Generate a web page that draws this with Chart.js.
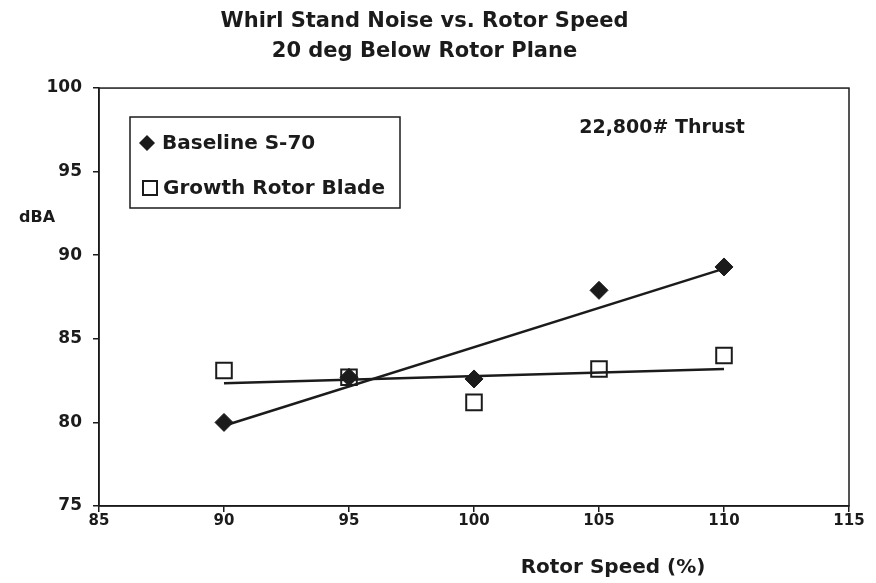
<!DOCTYPE html>
<html>
<head>
<meta charset="utf-8">
<script src="https://cdn.jsdelivr.net/npm/chart.js@4.4.1/dist/chart.umd.min.js"></script>
<style>
  html, body { margin: 0; padding: 0; background: #fff; }
  #wrap { width: 876px; height: 583px; }
</style>
</head>
<body>
<div id="wrap"><canvas id="chartCanvas"></canvas></div>
<script>
// Datos
const speeds = [90, 95, 100, 105, 110];
const baselineDba = [80.0, 82.7, 82.6, 87.9, 89.3];
const growthDba = [83.1, 82.7, 81.2, 83.2, 84.0];
// Lineas de tendencia (extremos)
const trendSpeeds = [90, 110];
const baselineTrend = [79.8, 89.2];
const growthTrend = [82.35, 83.2];
const titleLines = ['Whirl Stand Noise vs. Rotor Speed', '20 deg Below Rotor Plane'];
const seriesNames = ['Baseline S-70', 'Growth Rotor Blade'];
const noteText = '22,800# Thrust';

const INK = '#1b1b1b';
const FONT = '"DejaVu Sans", sans-serif';

const toPoints = (xs, ys) => xs.map((x, i) => ({ x: x, y: ys[i] }));

// Marco, etiquetas y leyenda dibujados sobre el lienzo
const extras = {
  id: 'extras',
  afterDraw(chart) {
    const { ctx, chartArea: a } = chart;
    ctx.save();
    ctx.strokeStyle = INK;
    ctx.lineWidth = 1.5;
    ctx.strokeRect(a.left, a.top, a.right - a.left, a.bottom - a.top);

    ctx.fillStyle = INK;
    ctx.textBaseline = 'middle';
    ctx.font = 'bold 16px ' + FONT;
    ctx.textAlign = 'left';
    ctx.fillText('dBA', 19, 218);
    ctx.font = 'bold 20px ' + FONT;
    ctx.textAlign = 'center';
    ctx.fillText('Rotor Speed (%)', 613, 568);
    ctx.font = 'bold 19px ' + FONT;
    ctx.fillText(noteText, 662, 128);

    // leyenda
    ctx.lineWidth = 1.5;
    ctx.strokeRect(130, 117, 270, 91);
    ctx.font = 'bold 20px ' + FONT;
    ctx.textAlign = 'left';
    ctx.beginPath();
    ctx.moveTo(147, 135); ctx.lineTo(155, 143); ctx.lineTo(147, 151); ctx.lineTo(139, 143);
    ctx.closePath();
    ctx.fill();
    ctx.fillText(seriesNames[0], 162, 144);
    ctx.lineWidth = 2;
    ctx.strokeRect(143, 181, 14, 14);
    ctx.fillText(seriesNames[1], 163, 189);
    ctx.restore();
  }
};

const ctx = document.getElementById('chartCanvas').getContext('2d');
new Chart(ctx, {
  type: 'scatter',
  data: {
    datasets: [
      {
        label: seriesNames[0],
        data: toPoints(speeds, baselineDba),
        pointStyle: 'rectRot',
        pointRadius: 9,
        backgroundColor: INK,
        borderColor: INK,
        borderWidth: 1,
        order: 1
      },
      {
        label: seriesNames[1],
        data: toPoints(speeds, growthDba),
        pointStyle: 'rect',
        pointRadius: 11,
        backgroundColor: 'rgba(0,0,0,0)',
        borderColor: INK,
        borderWidth: 2,
        order: 1
      },
      {
        label: 'Baseline trend',
        data: toPoints(trendSpeeds, baselineTrend),
        showLine: true,
        pointRadius: 0,
        borderColor: INK,
        borderWidth: 2.5,
        order: 2
      },
      {
        label: 'Growth trend',
        data: toPoints(trendSpeeds, growthTrend),
        showLine: true,
        pointRadius: 0,
        borderColor: INK,
        borderWidth: 2.5,
        order: 2
      }
    ]
  },
  options: {
    responsive: true,
    maintainAspectRatio: false,
    animation: false,
    layout: { padding: { left: 0, right: 27, top: 0, bottom: 0 } },
    plugins: {
      legend: { display: false },
      tooltip: { enabled: false },
      title: {
        display: true,
        text: titleLines,
        color: INK,
        font: { family: FONT, size: 21, weight: 'bold', lineHeight: 1.43 },
        padding: { top: 7, bottom: 21 }
      }
    },
    scales: {
      x: {
        type: 'linear',
        min: 85,
        max: 115,
        afterFit: s => { s.height = 77; },
        ticks: {
          stepSize: 5,
          color: INK,
          padding: 0,
          maxRotation: 0,
          font: { family: FONT, size: 15, weight: 'bold' }
        },
        grid: { drawOnChartArea: false, drawTicks: true, tickLength: 6, color: INK, lineWidth: 1.5 },
        border: { color: INK, width: 1.5 }
      },
      y: {
        min: 75,
        max: 100,
        afterFit: s => { s.width = 99; },
        ticks: {
          stepSize: 5,
          color: INK,
          padding: 11,
          font: { family: FONT, size: 17, weight: 'bold' }
        },
        grid: { drawOnChartArea: false, drawTicks: true, tickLength: 6, color: INK, lineWidth: 1.5 },
        border: { color: INK, width: 1.5 }
      }
    }
  },
  plugins: [extras]
});
</script>
</body>
</html>
